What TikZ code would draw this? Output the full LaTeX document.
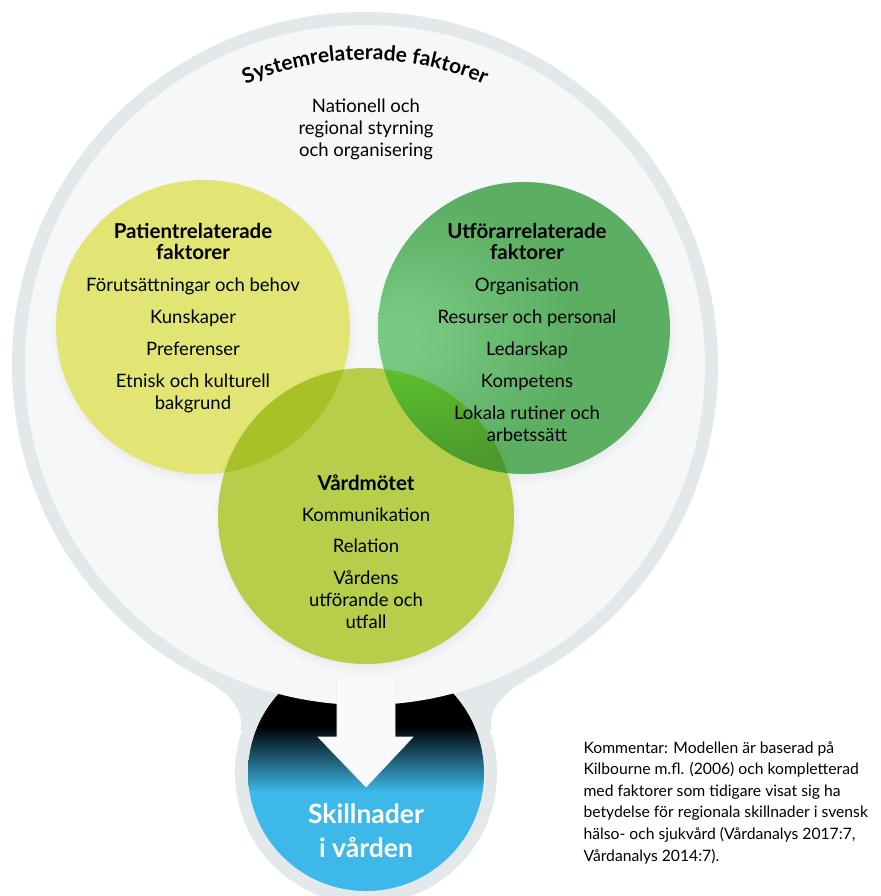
\documentclass[tikz,border=0pt]{standalone}
\usepackage{fontspec}
\setmainfont{Lato}
\usetikzlibrary{decorations.text,shadows,fadings}

\definecolor{ringgrey}{HTML}{E3E8EB}
\definecolor{diskgrey}{HTML}{F5F7F9}
\definecolor{arrowgrey}{HTML}{F9FAFB}
\definecolor{patyellow}{HTML}{E2E473}
\definecolor{utfgreen}{HTML}{5BAE62}
\definecolor{utfglow}{HTML}{79C982}
\definecolor{motegreen}{HTML}{B6CE4A}
\definecolor{patmote}{HTML}{A9C027}
\definecolor{utfmote}{HTML}{4C9A2E}
\definecolor{utfmoteglow}{HTML}{5CBE2C}
\definecolor{diffblue}{HTML}{3DB8E8}

\pgfdeclareverticalshading{difffade}{100bp}{color(0bp)=(diffblue); color(46bp)=(diffblue); color(60bp)=(black); color(100bp)=(black)}
\pgfdeclareradialshading{utfshade}{\pgfpoint{-24bp}{-2bp}}{color(0bp)=(utfglow); color(4bp)=(utfglow); color(22bp)=(utfgreen); color(50bp)=(utfgreen)}
\pgfdeclareradialshading{utfmoteshade}{\pgfpoint{-24bp}{-2bp}}{color(0bp)=(utfmoteglow); color(6bp)=(utfmoteglow); color(22bp)=(utfmote); color(50bp)=(utfmote)}

\begin{document}
\begin{tikzpicture}[x=1pt,y=-1pt,
  fact/.style={align=center,anchor=base,font=\fontsize{18.5}{22}\selectfont},
  facthead/.style={align=center,anchor=base,font=\fontsize{20.5}{21}\selectfont\bfseries},
  factshadow/.style={circular drop shadow={shadow xshift=1pt,shadow yshift=-4pt,shadow scale=1.04,opacity=.2}}]
  \useasboundingbox[fill=white] (0,0) rectangle (880,896);

  \fill[ringgrey] (365,365) circle (353);
  \fill[ringgrey] (366,773) circle (131);
  \fill[ringgrey] (205,680) .. controls (228,691) and (246,712) .. (240,730) -- (492,730) .. controls (486,712) and (504,691) .. (527,680) -- cycle;
  \shade[shading=difffade] (366,773) circle (118);
  \fill[diskgrey] (365,365) circle (340);
  \filldraw[fill=arrowgrey, draw=ringgrey!70, line width=.6pt] (337,676) -- (395,676) -- (395,737) -- (413,737) -- (366,787) -- (318,737) -- (337,737) -- cycle;

  \path[decorate, decoration={text along path, text align=center,
    text={|\fontsize{21}{24}\selectfont\bfseries|Systemrelaterade faktorer}}]
    (365,365) ++(205:305) arc[start angle=205, end angle=335, radius=305];
  \node[fact] (styr) at (366,157) {Nationell och\\regional styrning\\och organisering};

  \fill[patyellow, factshadow] (203,327) circle (147);
  \shade[shading=utfshade, factshadow] (524,328) circle (146);
  \fill[motegreen, factshadow] (366,516) circle (148);
  \begin{scope}
    \clip (366,516) circle (148);
    \fill[patmote] (203,327) circle (147);
    \shade[shading=utfmoteshade] (524,328) circle (146);
  \end{scope}

  \node[facthead] (pathead) at (193,259) {Patientrelaterade\\faktorer};
  \node[fact] (patlist) at (193,409) {Förutsättningar och behov\\[10pt]Kunskaper\\[10pt]Preferenser\\[10pt]Etnisk och kulturell\\bakgrund};
  \node[facthead] (utfhead) at (527,259) {Utförarrelaterade\\faktorer};
  \node[fact] (utflist) at (527,441) {Organisation\\[10pt]Resurser och personal\\[10pt]Ledarskap\\[10pt]Kompetens\\[10pt]Lokala rutiner och\\arbetssätt};
  \node[facthead] (motehead) at (366,490) {Vårdmötet};
  \node[fact] (motelist) at (366,628) {Kommunikation\\[9pt]Relation\\[10pt]Vårdens\\utförande och\\utfall};

  \node[align=center, anchor=base, text=white, font=\fontsize{26.5}{34}\selectfont\bfseries] (diff) at (366,857) {Skillnader\\i vården};
  \node[align=left, anchor=base west, font=\fontsize{15.7}{21.6}\selectfont] (komm) at (580,861) {Kommentar: Modellen är baserad på\\Kilbourne m.fl. (2006) och kompletterad\\med faktorer som tidigare visat sig ha\\betydelse för regionala skillnader i svensk\\hälso- och sjukvård (Vårdanalys 2017:7,\\Vårdanalys 2014:7).};
\end{tikzpicture}
\end{document}
